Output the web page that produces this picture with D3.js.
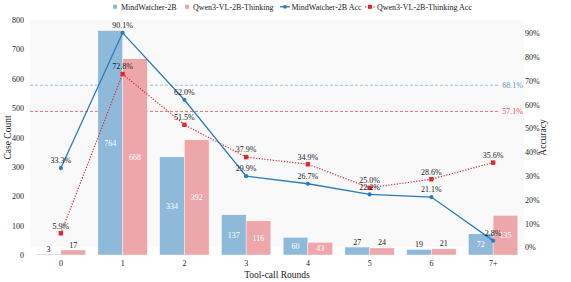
<!DOCTYPE html>
<html><head><meta charset="utf-8">
<script src="https://cdn.jsdelivr.net/npm/d3@7"></script>
<style>body{margin:0;background:#fff}svg{display:block}svg text{font-family:"Liberation Serif","Times New Roman",serif !important}</style>
</head><body><svg id="c" width="571" height="282"></svg>
<script>
const categories = ["0","1","2","3","4","5","6","7+"];
const mindCounts = [3,764,334,137,60,27,19,72];
const qwenCounts = [17,668,392,116,43,24,21,135];
const mindAcc = [33.3,90.1,62.0,29.9,26.7,22.2,21.1,2.8];
const qwenAcc = [5.9,72.8,51.5,37.9,34.9,25.0,28.6,35.6];
const mindAvg = 68.1, qwenAvg = 57.1;
const leftTicks = [0,100,200,300,400,500,600,700,800];
const rightTicks = [0,10,20,30,40,50,60,70,80,90];

const C = {blueBar:"#8fb9d9", pinkBar:"#eda6a9", blueLine:"#2b7bba", redLine:"#e2262b", blueDash:"#8ec3e8", redDash:"#e07272", blueTxt:"#5a9bd0", redTxt:"#e05050", text:"#222"};
const L=30,R=524,T=20,B=255;
const svg=d3.select("#c");
const x=d3.scaleBand().domain(categories).range([L,R]).paddingInner(0).paddingOuter(0);
const step=x.bandwidth();
const bw=step*0.4;
const yL=d3.scaleLinear().domain([0,800]).range([B,T]);
const yR=d3.scaleLinear().domain([-3.23,95.5]).range([B,T]);

// background
svg.append("rect").attr("x",L).attr("y",T).attr("width",R-L).attr("height",yR(0)-T).attr("fill","#f9f9f9");

// dashed avg lines
[[mindAvg,C.blueDash,C.blueTxt],[qwenAvg,C.redDash,C.redTxt]].forEach(([v,col,tc])=>{
  svg.append("line").attr("x1",L).attr("x2",R-25).attr("y1",yR(v)).attr("y2",yR(v))
    .attr("stroke",col).attr("stroke-width",1).attr("stroke-dasharray","3,2");
  svg.append("text").attr("x",R-1).attr("y",yR(v)+2.8).attr("text-anchor","end")
    .attr("font-size",8).attr("fill",tc).text(v.toFixed(1)+"%");
});

// bars
const gb=svg.append("g");
function bars(vals,off,col){
  categories.forEach((c,i)=>{
    const v=vals[i], bx=x(c)+step/2+off;
    gb.append("rect").attr("x",bx).attr("y",yL(v)).attr("width",bw).attr("height",B-yL(v))
      .attr("fill",col).attr("stroke","#fff").attr("stroke-width",0.4);
    const inside=v>=40;
    gb.append("text").attr("x",bx+bw/2)
      .attr("y",inside?(yL(v)+B)/2+2.8:yL(v)-2.5)
      .attr("text-anchor","middle").attr("font-size",8)
      .attr("fill",inside?"#fff":C.text).text(v);
  });
}
bars(mindCounts,-bw,C.blueBar);
bars(qwenCounts,0,C.pinkBar);

// lines
const cx=c=>x(c)+step/2;
const lineGen=acc=>d3.line().x((d,i)=>cx(categories[i])).y(d=>yR(d))(acc);
svg.append("path").attr("d",lineGen(qwenAcc)).attr("fill","none").attr("stroke",C.redLine).attr("stroke-width",1.2).attr("stroke-dasharray","1.2,1.6");
svg.append("path").attr("d",lineGen(mindAcc)).attr("fill","none").attr("stroke",C.blueLine).attr("stroke-width",1.3);
categories.forEach((c,i)=>{
  svg.append("rect").attr("x",cx(c)-2.2).attr("y",yR(qwenAcc[i])-2.2).attr("width",4.4).attr("height",4.4).attr("fill",C.redLine);
  svg.append("circle").attr("cx",cx(c)).attr("cy",yR(mindAcc[i])).attr("r",2.1).attr("fill",C.blueLine);
});
categories.forEach((c,i)=>{
  svg.append("text").attr("x",cx(c)).attr("y",yR(qwenAcc[i])-4.7).attr("text-anchor","middle").attr("font-size",8).attr("fill",C.text).text(qwenAcc[i].toFixed(1)+"%");
  svg.append("text").attr("x",cx(c)).attr("y",yR(mindAcc[i])-4.7).attr("text-anchor","middle").attr("font-size",8).attr("fill",C.text).text(mindAcc[i].toFixed(1)+"%");
});

// axes
const axL=svg.append("g").attr("transform",`translate(${L},0)`).call(d3.axisLeft(yL).tickValues(leftTicks).tickSize(0).tickPadding(6));
const axR=svg.append("g").attr("transform",`translate(${R},0)`).call(d3.axisRight(yR).tickValues(rightTicks).tickSize(0).tickPadding(1).tickFormat(d=>d+"%"));
const axB=svg.append("g").attr("transform",`translate(0,${B})`).call(d3.axisBottom(x).tickSize(0).tickPadding(5));
[axL,axR,axB].forEach(a=>{a.select(".domain").remove();a.selectAll("text").attr("font-size",8).attr("fill",C.text);});

// titles
svg.append("text").attr("transform",`translate(11,${(T+B)/2}) rotate(-90)`).attr("text-anchor","middle").attr("font-size",9.5).attr("fill",C.text).text("Case Count");
svg.append("text").attr("transform",`translate(546,${(T+B)/2}) rotate(-90)`).attr("text-anchor","middle").attr("font-size",9.5).attr("fill",C.text).text("Accuracy");
svg.append("text").attr("x",(L+R)/2).attr("y",277.5).attr("text-anchor","middle").attr("font-size",9.5).attr("fill",C.text).text("Tool-call Rounds");

// legend
const lg=svg.append("g").attr("font-size",8).attr("fill",C.text);
const ly=6.8;
lg.append("rect").attr("x",113).attr("y",ly-2).attr("width",4).attr("height",4).attr("fill",C.blueBar);
lg.append("text").attr("x",121).attr("y",ly+2.7).text("MindWatcher-2B");
lg.append("rect").attr("x",185).attr("y",ly-2).attr("width",4).attr("height",4).attr("fill",C.pinkBar);
lg.append("text").attr("x",193).attr("y",ly+2.7).text("Qwen3-VL-2B-Thinking");
lg.append("line").attr("x1",280).attr("x2",290).attr("y1",ly).attr("y2",ly).attr("stroke",C.blueLine).attr("stroke-width",1.3);
lg.append("circle").attr("cx",285).attr("cy",ly).attr("r",1.9).attr("fill",C.blueLine);
lg.append("text").attr("x",291.5).attr("y",ly+2.7).text("MindWatcher-2B Acc");
lg.append("line").attr("x1",365).attr("x2",375).attr("y1",ly).attr("y2",ly).attr("stroke",C.redLine).attr("stroke-width",1.2).attr("stroke-dasharray","1.2,1.6");
lg.append("rect").attr("x",368).attr("y",ly-2).attr("width",4).attr("height",4).attr("fill",C.redLine);
lg.append("text").attr("x",377).attr("y",ly+2.7).text("Qwen3-VL-2B-Thinking Acc");
</script></body></html>
